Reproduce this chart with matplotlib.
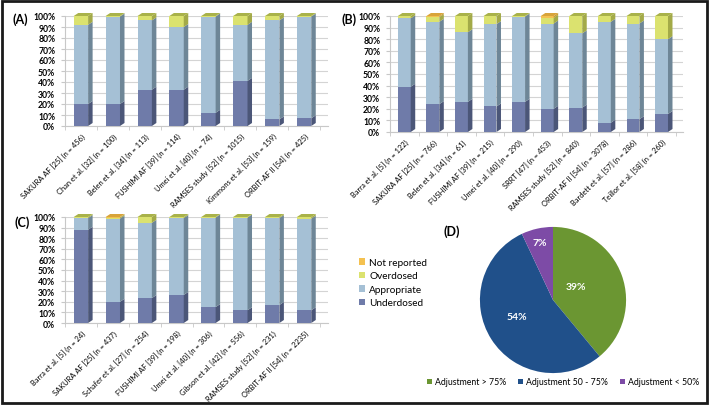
import matplotlib
matplotlib.use("Agg")
import matplotlib.pyplot as plt
from matplotlib.patches import Patch, Polygon, Rectangle
import numpy as np

plt.rcParams['font.family'] = ['Lato', 'DejaVu Sans']

# ---------------- data ----------------
series = ["Underdosed", "Appropriate", "Overdosed", "Not reported"]

labels_a = ["SAKURA AF [25] (n = 456)", "Chan et al. [32] (n = 100)", "Belen et al. [34] (n = 113)",
            "FUSHIMI AF [39] (n = 114)", "Umei et al. [40] (n = 74)", "RAMSES study [52] (n = 1015)",
            "Kimmons et al. [53] (n = 159)", "ORBIT-AF II [54] (n = 425)"]
under_a = [20, 20, 33, 33, 12, 41, 6, 7]
approp_a = [72, 79.5, 63, 57, 87.5, 51, 90, 92.5]
over_a = [8, 0.5, 4, 10, 0.5, 8, 4, 0.5]
nr_a = [0, 0, 0, 0, 0, 0, 0, 0]

labels_b = ["Barra et al. [5] (n = 122)", "SAKURA AF [25] (n = 766)", "Belen et al. [34] (n = 61)",
            "FUSHIMI AF [39] (n = 215)", "Umei et al. [40] (n = 290)", "SRRT [47] (n = 453)",
            "RAMSES study [52] (n = 840)", "ORBIT-AF II [54] (n = 3078)", "Bardett et al. [57] (n = 286)",
            "Teillor et al. [58] (n = 260)"]
under_b = [39, 24, 26, 22, 26, 20, 21, 8, 11, 15.5]
approp_b = [59, 71, 60, 71, 73.5, 73.5, 64, 87, 82.5, 64.5]
over_b = [2, 4, 14, 7, 0.5, 5, 15, 5, 6.5, 20]
nr_b = [0, 1, 0, 0, 0, 1.5, 0, 0, 0, 0]

labels_c = ["Barra et al. [5] (n = 24)", "SAKURA AF [25] (n = 437)", "Schafer et al. [27] (n = 254)",
            "FUSHIMI AF [39] (n = 198)", "Umei et al. [40] (n = 306)", "Gibson et al. [42] (n = 556)",
            "RAMSES study [52] (n = 231)", "ORBIT-AF II [54] (n = 2235)"]
under_c = [88, 20, 23.5, 26.5, 15, 12, 17, 12]
approp_c = [11, 78.5, 71, 72.5, 84.5, 87.5, 82, 86.5]
over_c = [1, 1, 5.5, 1, 0.5, 0.5, 1, 1.5]
nr_c = [0, 0.5, 0, 0, 0, 0, 0, 0]

pie_labels = ["Adjustment > 75%", "Adjustment 50 - 75%", "Adjustment < 50%"]
pie_values = [39, 54, 7]

# ---------------- styles ----------------
front = {"Underdosed": "#6f7ba9", "Appropriate": "#a5c0d5", "Overdosed": "#dbe26f", "Not reported": "#f4c150"}
side = {"Underdosed": "#4b5678", "Appropriate": "#6e8697", "Overdosed": "#a3aa48", "Not reported": "#c99a33"}
topc = {"Underdosed": "#8892bb", "Appropriate": "#b8cfe0", "Overdosed": "#a9b24a", "Not reported": "#d8a43a"}
pie_colors = ["#6b9632", "#20508a", "#7d4ba6"]

W, H = 709, 406
fig = plt.figure(figsize=(W / 100, H / 100), dpi=100)


def add_ax(l, t, r, b):
    return fig.add_axes([l / W, 1 - b / H, (r - l) / W, (b - t) / H])


def bar3d(ax, labels, under, approp, over, nr, depth_px=(4.5, 3.0)):
    n = len(labels)
    x = np.arange(n)
    ax.set_xlim(-0.5, n - 0.5 + 0.25)
    ax.set_ylim(0, 100)
    fig.canvas.draw()
    inv = ax.transData.inverted()
    p0 = inv.transform(ax.transData.transform((0, 0)))
    p1 = inv.transform(ax.transData.transform((0, 0)) + np.array(depth_px))
    dx, dy = p1 - p0
    width = 0.45
    bottom = np.zeros(n)
    vals = {"Underdosed": under, "Appropriate": approp, "Overdosed": over, "Not reported": nr}
    tops = np.array(under) + np.array(approp) + np.array(over) + np.array(nr)
    for s in series:
        v = np.array(vals[s], dtype=float)
        rects = ax.bar(x, v, width, bottom=bottom, color=front[s], edgecolor='none', zorder=3)
        for i, r in enumerate(rects):
            if v[i] <= 0:
                continue
            x0, y0 = r.get_x(), r.get_y()
            x1, y1 = x0 + r.get_width(), y0 + r.get_height()
            ax.add_patch(Polygon([(x1, y0), (x1 + dx, y0 + dy), (x1 + dx, y1 + dy), (x1, y1)],
                                 closed=True, facecolor=side[s], edgecolor='none', zorder=3, clip_on=False))
            if abs(y1 - tops[i]) < 1e-6:
                ax.add_patch(Polygon([(x0, y1), (x0 + dx, y1 + dy), (x1 + dx, y1 + dy), (x1, y1)],
                                     closed=True, facecolor=topc[s], edgecolor='none', zorder=3, clip_on=False))
        bottom = bottom + v
    ax.set_yticks(np.arange(0, 101, 10))
    ax.set_yticklabels([f"{t}%" for t in range(0, 101, 10)], fontsize=6.2, fontweight='bold')
    ax.grid(axis='y', color='#d4d4d4', linewidth=0.8, zorder=0)
    ax.set_xticks(x)
    ax.set_xticklabels(labels, rotation=45, ha='right', rotation_mode='anchor', fontsize=5.4)
    ax.set_xticks(np.arange(-0.5, n, 1.0), minor=True)
    ax.tick_params(axis='x', which='major', length=0, pad=4)
    ax.tick_params(axis='x', which='minor', length=3, color='#c8c8c8', direction='out')
    ax.tick_params(axis='y', length=3, color='#c8c8c8', pad=4)
    for sp in ["top", "right"]:
        ax.spines[sp].set_visible(False)
    ax.spines["left"].set_color('#c8c8c8')
    ax.spines["bottom"].set_color('#c8c8c8')
    ax.set_axisbelow(True)


axA = add_ax(65, 17, 328, 127)
bar3d(axA, labels_a, under_a, approp_a, over_a, nr_a)
axB = add_ax(390, 17, 683, 133)
bar3d(axB, labels_b, under_b, approp_b, over_b, nr_b)
axC = add_ax(65, 218, 328, 324)
bar3d(axC, labels_c, under_c, approp_c, over_c, nr_c)

fig.text(12 / W, 1 - 20 / H, "(A)", fontsize=9, fontweight='bold', va='center')
fig.text(342 / W, 1 - 20 / H, "(B)", fontsize=9, fontweight='bold', va='center')
fig.text(15 / W, 1 - 223 / H, "(C)", fontsize=9, fontweight='bold', va='center')
fig.text(443 / W, 1 - 232 / H, "(D)", fontsize=9, fontweight='bold', va='center')

# shared legend (top-to-bottom: Not reported ... Underdosed)
leg_order = series[::-1]
handles = [Patch(facecolor=front[s], edgecolor='none') for s in leg_order]
fig.legend(handles, leg_order, loc='upper left', bbox_to_anchor=(355 / W, 1 - 255 / H), frameon=False,
           fontsize=7.2, handlelength=0.6, handleheight=0.6, handletextpad=0.4, labelspacing=0.45,
           borderaxespad=0)

# pie
axD = add_ax(477, 225, 629, 377)
wedges, texts = axD.pie(pie_values, colors=pie_colors, startangle=90, counterclock=False,
                        wedgeprops=dict(edgecolor='none'), radius=1.0)
axD.set_xlim(-1.04, 1.04)
axD.set_ylim(-1.04, 1.04)
axD.set_aspect('equal')
label_pos = [(0.32, 0.18), (-0.49, -0.22), (-0.18, 0.78)]
for (px, py), v in zip(label_pos, pie_values):
    axD.text(px, py, f"{v}%", color='white', fontsize=7.5, fontweight='bold', ha='center', va='center')
fig.legend(wedges, pie_labels, loc='center', bbox_to_anchor=(563 / W, 1 - 383 / H), ncol=3, frameon=False,
           fontsize=6.3, handlelength=0.6, handleheight=0.6, handletextpad=0.3, columnspacing=1.4)

# outer frame
fig.add_artist(Rectangle((2 / W, 2 / H), (W - 4) / W, (H - 4) / H, transform=fig.transFigure,
                         fill=False, edgecolor='#1a1a1a', linewidth=2))

fig.savefig("out.png", dpi=100)
